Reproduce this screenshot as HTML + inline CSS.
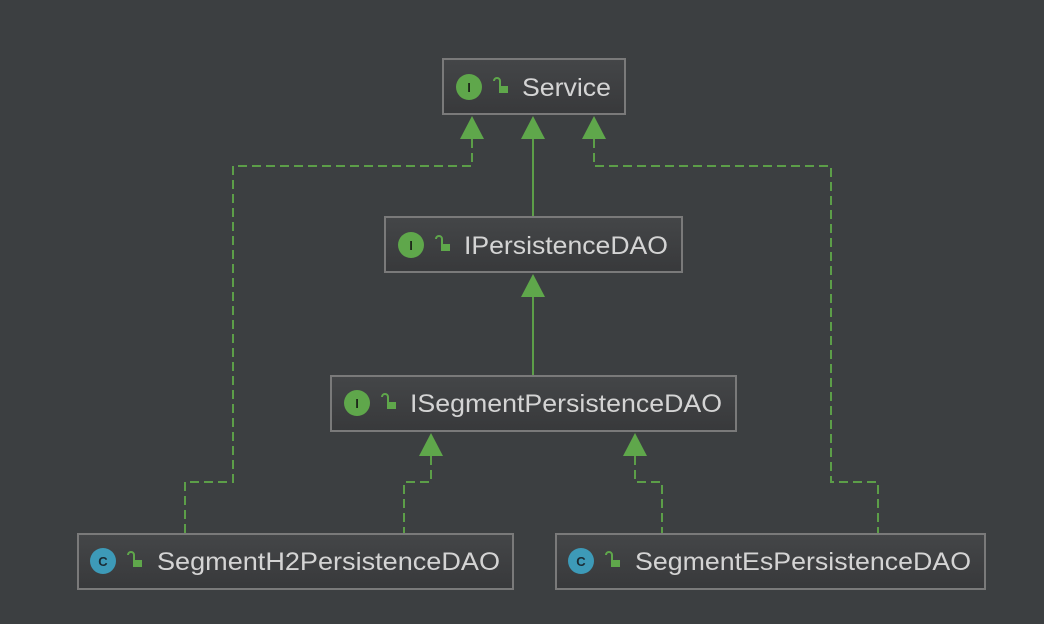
<!DOCTYPE html>
<html><head><style>
body{margin:0;background:#3c3f41;}
svg{display:block}
text{font-family:"Liberation Sans",sans-serif;}
</style></head><body>
<svg width="1044" height="624" viewBox="0 0 1044 624">
<defs>
<linearGradient id="g" x1="0" y1="0" x2="0" y2="1">
<stop offset="0" stop-color="#444648"/><stop offset="1" stop-color="#38393b"/>
</linearGradient>
</defs>
<rect width="1044" height="624" fill="#3c3f41"/>
<g fill="none" stroke="#5c9e48" stroke-width="2">
<path d="M533 139V216"/>
<path d="M533 297V375"/>
<g stroke-dasharray="9,5">
<path d="M472 139V166H233V482H185V533"/>
<path d="M594 139V166H831V482H878V533"/>
<path d="M431 456V482H404V533"/>
<path d="M635 456V482H662V533"/>
</g>
</g>
<g fill="#5fa74b">
<path d="M472 116L460 139H484Z"/>
<path d="M533 116L521 139H545Z"/>
<path d="M594 116L582 139H606Z"/>
<path d="M533 274L521 297H545Z"/>
<path d="M431 433L419 456H443Z"/>
<path d="M635 433L623 456H647Z"/>
</g>
<g stroke="#7a7a7a" stroke-width="2" fill="url(#g)">
<rect x="443" y="59" width="182" height="55"/>
<rect x="385" y="217" width="297" height="55"/>
<rect x="331" y="376" width="405" height="55"/>
<rect x="78" y="534" width="435" height="55"/>
<rect x="556" y="534" width="429" height="55"/>
</g>
<g font-size="13" font-family="Liberation Serif" font-weight="bold" text-anchor="middle" fill="#1e2a1a">
<circle cx="469" cy="87" r="13" fill="#5fa74b"/><text x="469" y="92">I</text>
<circle cx="411" cy="245" r="13" fill="#5fa74b"/><text x="411" y="250">I</text>
<circle cx="357" cy="403" r="13" fill="#5fa74b"/><text x="357" y="408">I</text>
<circle cx="103" cy="561" r="13" fill="#3d9ab8"/><text x="103" y="566" fill="#1a2a33">C</text>
<circle cx="581" cy="561" r="13" fill="#3d9ab8"/><text x="581" y="566" fill="#1a2a33">C</text>
</g>
<g fill="#5fa74b">
<rect x="499" y="86" width="9" height="7"/><rect x="441" y="244" width="9" height="7"/><rect x="387" y="402" width="9" height="7"/><rect x="133" y="560" width="9" height="7"/><rect x="611" y="560" width="9" height="7"/>
</g>
<g fill="none" stroke="#5fa74b" stroke-width="2">
<path d="M500 86V81a3 3 0 0 0-6 0"/><path d="M442 244V239a3 3 0 0 0-6 0"/><path d="M388 402V397a3 3 0 0 0-6 0"/><path d="M134 560V555a3 3 0 0 0-6 0"/><path d="M612 560V555a3 3 0 0 0-6 0"/>
</g>
<g font-size="25" fill="#d4d4d4">
<text x="522" y="96" textLength="89" lengthAdjust="spacingAndGlyphs">Service</text>
<text x="464" y="254" textLength="204" lengthAdjust="spacingAndGlyphs">IPersistenceDAO</text>
<text x="410" y="412" textLength="312" lengthAdjust="spacingAndGlyphs">ISegmentPersistenceDAO</text>
<text x="157" y="570" textLength="343" lengthAdjust="spacingAndGlyphs">SegmentH2PersistenceDAO</text>
<text x="635" y="570" textLength="336" lengthAdjust="spacingAndGlyphs">SegmentEsPersistenceDAO</text>
</g>
</svg>
</body></html>
